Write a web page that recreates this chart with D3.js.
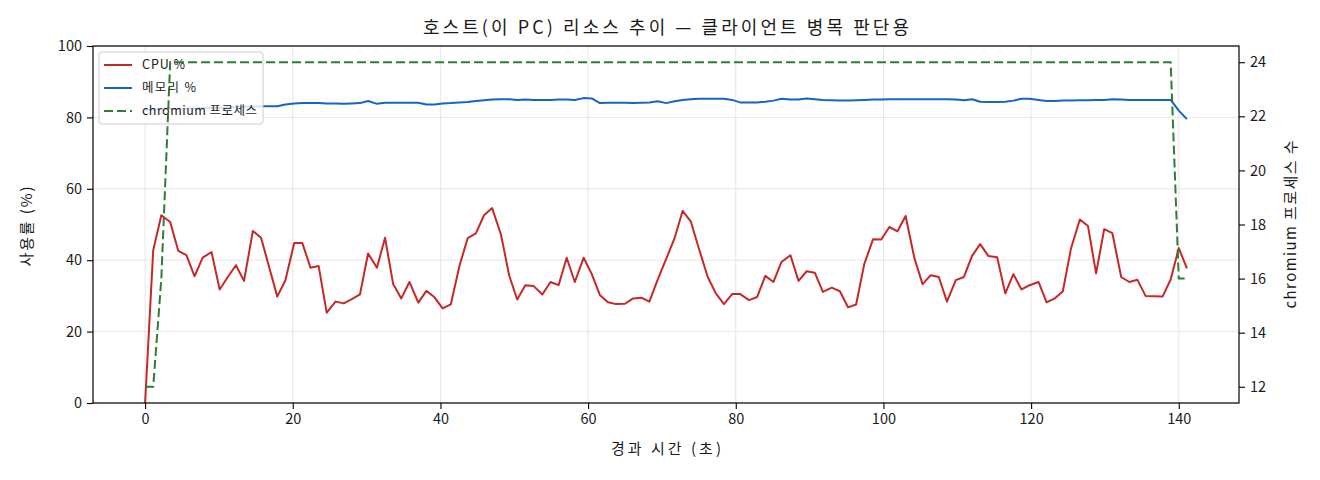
<!DOCTYPE html>
<html>
<head>
<meta charset="utf-8">
<script src="https://cdn.jsdelivr.net/npm/d3@7/dist/d3.min.js"></script>
<style>
  html, body { margin: 0; padding: 0; background: #ffffff; }
  svg { display: block; }
  text { font-family: "Noto Sans CJK KR", "Noto Sans", sans-serif; fill: #1a1a1a; }
</style>
</head>
<body>
<svg id="chart" width="1320" height="480"></svg>
<script>
// ---- data ----
const timeSec = [0,1.1,2.2,3.4,4.5,5.6,6.7,7.8,9.0,10.1,11.2,12.3,13.4,14.6,15.7,16.8,17.9,19.0,20.2,21.3,
  22.4,23.5,24.6,25.8,26.9,28.0,29.1,30.2,31.4,32.5,33.6,34.7,35.8,37.0,38.1,39.2,40.3,41.4,42.6,43.7,
  44.8,45.9,47.0,48.2,49.3,50.4,51.5,52.6,53.8,54.9,56.0,57.1,58.2,59.4,60.5,61.6,62.7,63.8,65.0,66.1,
  67.2,68.3,69.4,70.6,71.7,72.8,73.9,75.0,76.2,77.3,78.4,79.5,80.6,81.8,82.9,84.0,85.1,86.2,87.4,88.5,
  89.6,90.7,91.8,93.0,94.1,95.2,96.3,97.4,98.6,99.7,100.8,101.9,103.0,104.2,105.3,106.4,107.5,108.6,109.8,110.9,
  112.0,113.1,114.2,115.4,116.5,117.6,118.7,119.8,121.0,122.1,123.2,124.3,125.4,126.6,127.7,128.8,129.9,131.0,132.2,133.3,
  134.4,135.5,136.6,137.8,138.9,140.0,141.1];

const cpuPct = [0,42.8,52.6,50.7,42.6,41.4,35.5,40.7,42.3,31.8,35.3,38.6,34.2,48.2,46.3,38.1,29.8,34.4,44.8,44.8,
  37.9,38.4,25.3,28.4,27.9,29.1,30.4,41.9,37.9,46.3,33.3,29.3,33.9,28.1,31.4,29.6,26.5,27.6,38.6,46.2,
  47.5,52.6,54.6,47.2,35.8,29.0,33.0,32.8,30.4,33.9,33.0,40.7,33.9,40.7,36.1,30.2,28.2,27.7,27.8,29.3,
  29.5,28.4,34.4,40.5,46.1,53.8,50.9,43.3,35.3,30.7,27.7,30.5,30.5,28.8,29.7,35.6,33.9,39.5,41.4,34.2,
  36.9,36.5,31.1,32.3,31.3,26.8,27.6,38.9,45.9,45.8,49.3,48.1,52.4,40.5,33.3,35.8,35.3,28.4,34.4,35.3,
  41.2,44.5,41.2,40.8,30.7,36.1,31.8,33.0,33.9,28.2,29.3,31.3,43.3,51.4,49.6,36.3,48.7,47.6,35.3,33.9,
  34.5,30.0,29.9,29.8,34.6,43.4,37.7];

const memPct = [82.0,82.2,82.3,82.4,82.4,82.5,82.5,82.6,82.6,82.7,82.8,82.9,83.0,83.0,83.1,83.1,83.1,83.6,83.9,84.0,
  84.0,84.0,83.9,83.9,83.8,83.9,84.0,84.6,83.8,84.1,84.1,84.1,84.1,84.1,83.6,83.6,83.9,84.0,84.2,84.3,
  84.6,84.8,85.0,85.1,85.1,84.9,85.0,84.9,84.9,84.9,85.0,85.0,84.9,85.4,85.3,84.0,84.1,84.1,84.1,84.0,
  84.1,84.2,84.5,84.0,84.5,84.9,85.1,85.2,85.2,85.2,85.2,84.9,84.2,84.2,84.2,84.4,84.7,85.2,85.0,85.0,
  85.3,85.1,84.9,84.8,84.7,84.7,84.8,84.9,85.0,85.0,85.1,85.1,85.1,85.1,85.1,85.1,85.1,85.1,85.0,84.8,
  85.1,84.4,84.3,84.3,84.4,84.7,85.2,85.2,84.9,84.6,84.6,84.7,84.7,84.8,84.8,84.9,84.9,85.1,85.0,84.9,
  84.9,84.9,84.9,84.9,84.9,81.9,79.5];

const chromiumCount = [12,12,16,24,24,24,24,24,24,24,24,24,24,24,24,24,24,24,24,24,
  24,24,24,24,24,24,24,24,24,24,24,24,24,24,24,24,24,24,24,24,
  24,24,24,24,24,24,24,24,24,24,24,24,24,24,24,24,24,24,24,24,
  24,24,24,24,24,24,24,24,24,24,24,24,24,24,24,24,24,24,24,24,
  24,24,24,24,24,24,24,24,24,24,24,24,24,24,24,24,24,24,24,24,
  24,24,24,24,24,24,24,24,24,24,24,24,24,24,24,24,24,24,24,24,
  24,24,24,24,24,16,16];

const xTicks = [0,20,40,60,80,100,120,140];
const yLeftTicks = [0,20,40,60,80,100];
const yRightTicks = [12,14,16,18,20,22,24];

const titleText = "호스트(이 PC) 리소스 추이 — 클라이언트 병목 판단용";
const xLabel = "경과 시간 (초)";
const yLeftLabel = "사용률 (%)";
const yRightLabel = "chromium 프로세스 수";
const legendLabels = ["CPU %", "메모리 %", "chromium 프로세스"];

// ---- layout ----
const plot = { left: 93, right: 1239, top: 46, bottom: 403 };
const colors = { cpu: "#c62828", mem: "#1565c0", chr: "#2e7d32" };

const svg = d3.select("#chart");

const tMin = d3.min(timeSec), tMax = d3.max(timeSec);
const pad = (tMax - tMin) * 0.05;
const x = d3.scaleLinear().domain([tMin - pad, tMax + pad]).range([plot.left, plot.right]);
const yL = d3.scaleLinear().domain([0, 100]).range([plot.bottom, plot.top]);
const cMin = d3.min(chromiumCount), cMax = d3.max(chromiumCount);
const cPad = (cMax - cMin) * 0.05;
const yR = d3.scaleLinear().domain([cMin - cPad, cMax + cPad]).range([plot.bottom, plot.top]);

// grid
const grid = svg.append("g").attr("class", "grid");
grid.selectAll("line.gx").data(xTicks).join("line")
  .attr("x1", d => x(d)).attr("x2", d => x(d))
  .attr("y1", plot.top).attr("y2", plot.bottom)
  .attr("stroke", "#b0b0b0").attr("stroke-opacity", 0.3).attr("stroke-width", 1);
grid.selectAll("line.gy").data(yLeftTicks).join("line")
  .attr("x1", plot.left).attr("x2", plot.right)
  .attr("y1", d => yL(d)).attr("y2", d => yL(d))
  .attr("stroke", "#b0b0b0").attr("stroke-opacity", 0.3).attr("stroke-width", 1);

// clip
svg.append("clipPath").attr("id", "clip").append("rect")
  .attr("x", plot.left).attr("y", plot.top)
  .attr("width", plot.right - plot.left).attr("height", plot.bottom - plot.top);

const lineL = d3.line().x((d, i) => x(timeSec[i])).y(d => yL(d));
const lineR = d3.line().x((d, i) => x(timeSec[i])).y(d => yR(d));

const g1 = svg.append("g").attr("clip-path", "url(#clip)");
g1.append("path").datum(cpuPct).attr("d", lineL)
  .attr("fill", "none").attr("stroke", colors.cpu).attr("stroke-width", 2).attr("stroke-linejoin", "round");
g1.append("path").datum(memPct).attr("d", lineL)
  .attr("fill", "none").attr("stroke", colors.mem).attr("stroke-width", 2).attr("stroke-linejoin", "round");

// legend (belongs to left axes, drawn under right-axis line)
const leg = svg.append("g").attr("transform", "translate(99,52)");
leg.append("rect").attr("width", 164).attr("height", 72).attr("rx", 3)
  .attr("fill", "#ffffff").attr("fill-opacity", 0.8)
  .attr("stroke", "#cccccc").attr("stroke-width", 1);
const legItems = [
  { label: legendLabels[0], color: colors.cpu, dash: null, w: 43 },
  { label: legendLabels[1], color: colors.mem, dash: null, w: 54 },
  { label: legendLabels[2], color: colors.chr, dash: "9,4", w: 115 }
];
legItems.forEach((it, i) => {
  const yy = 13 + i * 23;
  leg.append("line").attr("x1", 5).attr("x2", 33).attr("y1", yy).attr("y2", yy)
    .attr("stroke", it.color).attr("stroke-width", 2)
    .attr("stroke-dasharray", it.dash);
  leg.append("text").attr("x", 43).attr("y", yy).attr("dy", "0.35em")
    .attr("font-size", 12.5).attr("textLength", it.w).attr("lengthAdjust", "spacing")
    .text(it.label);
});

// right axis line
const g2 = svg.append("g").attr("clip-path", "url(#clip)");
g2.append("path").datum(chromiumCount).attr("d", lineR)
  .attr("fill", "none").attr("stroke", colors.chr).attr("stroke-width", 2)
  .attr("stroke-dasharray", "9,4");

// frame
svg.append("rect").attr("x", plot.left).attr("y", plot.top)
  .attr("width", plot.right - plot.left).attr("height", plot.bottom - plot.top)
  .attr("fill", "none").attr("stroke", "#000").attr("stroke-width", 1.2);

// axes
const fontTick = 14.5;
const axB = svg.append("g").attr("transform", `translate(0,${plot.bottom})`)
  .call(d3.axisBottom(x).tickValues(xTicks).tickSize(6).tickPadding(5));
const axL = svg.append("g").attr("transform", `translate(${plot.left},0)`)
  .call(d3.axisLeft(yL).tickValues(yLeftTicks).tickSize(6).tickPadding(5));
const axR = svg.append("g").attr("transform", `translate(${plot.right},0)`)
  .call(d3.axisRight(yR).tickValues(yRightTicks).tickSize(6).tickPadding(5));
[axB, axL, axR].forEach(a => {
  a.select(".domain").remove();
  a.selectAll(".tick line").attr("stroke", "#000").attr("stroke-width", 1.1);
  a.selectAll(".tick text").attr("font-size", fontTick).attr("fill", "#1a1a1a")
    .attr("font-family", '"Noto Sans CJK KR", sans-serif');
});

// labels
const cx = (plot.left + plot.right) / 2;
svg.append("text").attr("x", cx).attr("y", 29)
  .attr("text-anchor", "middle").attr("dominant-baseline", "middle")
  .attr("font-size", 18).attr("textLength", 486).attr("lengthAdjust", "spacing")
  .text(titleText);
svg.append("text").attr("x", cx).attr("y", 450)
  .attr("text-anchor", "middle").attr("dominant-baseline", "middle")
  .attr("font-size", 15).attr("textLength", 110).attr("lengthAdjust", "spacing")
  .text(xLabel);
svg.append("text").attr("transform", `translate(28,${(plot.top + plot.bottom) / 2 + 2}) rotate(-90)`)
  .attr("text-anchor", "middle").attr("dominant-baseline", "middle")
  .attr("font-size", 15).attr("textLength", 80).attr("lengthAdjust", "spacing")
  .text(yLeftLabel);
svg.append("text").attr("transform", `translate(1292,${(plot.top + plot.bottom) / 2}) rotate(-90)`)
  .attr("text-anchor", "middle").attr("dominant-baseline", "middle")
  .attr("font-size", 15).attr("textLength", 168).attr("lengthAdjust", "spacing")
  .text(yRightLabel);
</script>
</body>
</html>
